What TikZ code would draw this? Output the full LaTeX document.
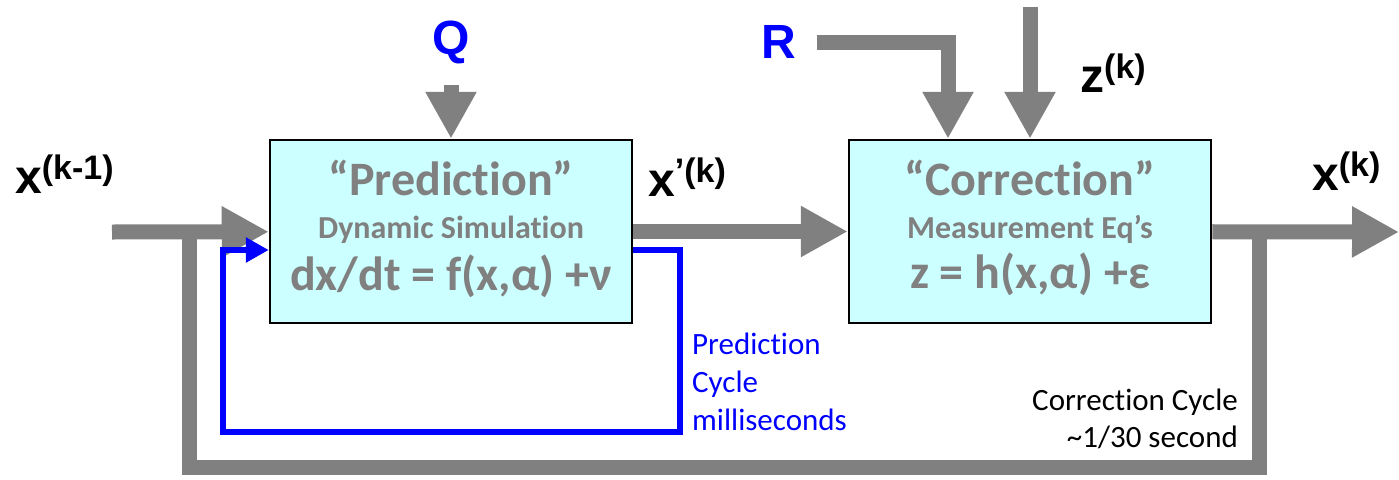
\documentclass[tikz,border=0pt]{standalone}
\usepackage{fontspec}
\setmainfont{Carlito}[Ligatures={NoCommon}]
\newfontfamily\arialfont{Liberation Sans}
\usetikzlibrary{arrows.meta, positioning}
\definecolor{boxfill}{HTML}{CCFFFF}
\definecolor{flowgray}{HTML}{808080}
\definecolor{loopblue}{HTML}{0000FF}
\newcommand{\fs}[2]{\fontsize{#1}{#2}\selectfont}
\newcommand{\supvar}[2]{{\fs{48}{48}#1}\raisebox{14pt}{\fs{34}{34}#2}}
\tikzstyle{block} = [rectangle, draw=black, line width=2.5pt, fill=boxfill, minimum width=362pt, minimum height=183pt]
\tikzstyle{boxtext} = [text=flowgray, inner sep=0pt, anchor=base]
\tikzstyle{flow} = [draw=flowgray, line width=15pt, -{Triangle[width=48pt,length=47pt]}]
\tikzstyle{feedback} = [draw=flowgray, line width=15pt]
\tikzstyle{predloop} = [draw=loopblue, line width=6pt, -{Triangle[width=24pt,length=23pt]}]
\tikzstyle{var} = [font=\arialfont\bfseries, inner sep=0pt, anchor=base west]

\begin{document}
\begin{tikzpicture}[x=1pt, y=-1pt]
    \useasboundingbox (0,0) rectangle (1399,479);
    % Nodes
    \node (pred) [block] at (451,231.5) {};
    \node (predT) [boxtext, font=\fs{48}{48}\bfseries] at (451,195) {“Prediction”};
    \node (predS) [boxtext, font=\fs{32}{32}\bfseries] at (451,238) {Dynamic Simulation};
    \node (predE) [boxtext, font=\fs{48}{48}\bfseries] at (451,290) {dx/dt = f(x,α) +ν};

    \node (corr) [block] at (1030,231.5) {};
    \node (corrT) [boxtext, font=\fs{48}{48}\bfseries] at (1030,195) {“Correction”};
    \node (corrS) [boxtext, font=\fs{32}{32}\bfseries] at (1030,238) {Measurement Eq’s};
    \node (corrE) [boxtext, font=\fs{48}{48}\bfseries] at (1030,288) {z = h(x,α) +ε};

    \node (Q) [font=\arialfont\bfseries\fs{48}{48}, text=loopblue] at (451,42) {Q};
    \node (R) [font=\arialfont\bfseries\fs{48}{48}, text=loopblue] at (779,42) {R};

    \node (xprev) [var] at (15,193) {\supvar{x}{(k-1)}};
    \node (xpred) [var] at (648,196) {\supvar{x}{’(k)}};
    \node (zk) [var] at (1080,92) {\supvar{z}{(k)}};
    \node (xk) [var] at (1312,190) {\supvar{x}{(k)}};

    \node (pcycle) [anchor=base west, align=left, text=loopblue, font=\fs{31}{38}, inner sep=0pt] at (692,430) {Prediction\\Cycle\\milliseconds};
    \node (ccycle) [anchor=base east, align=right, font=\fs{31}{37}, inner sep=0pt] at (1238,447) {Correction Cycle\\\textasciitilde1/30 second};

    \coordinate (in) at (112,232);
    \coordinate (out) at (1399,232);
    \coordinate (fbL) at (189,232);
    \coordinate (fbR) at (1259,232);
    \coordinate (ztop) at (1030,7);
    \coordinate (loopR) at (680,250);
    \coordinate (loopL) at (223,250);

    % Arrows
    \draw [feedback] (fbR) -- (1259,467) -| (fbL);
    \draw [flow] (in) -- (pred);
    \draw [flow] (pred) -- (corr);
    \draw [flow] (corr) -- (out);
    \draw [flow, shorten <=18pt] (Q) -- (pred);
    \draw [flow, shorten <=17pt] (R) -| ([xshift=-82pt]corr.north);
    \draw [flow] (ztop) -- (corr);
    \draw [predloop] (pred.east |- loopR) -- (loopR) -- (680,432) -| (loopL) -- (pred.west |- loopL);
\end{tikzpicture}
\end{document}
